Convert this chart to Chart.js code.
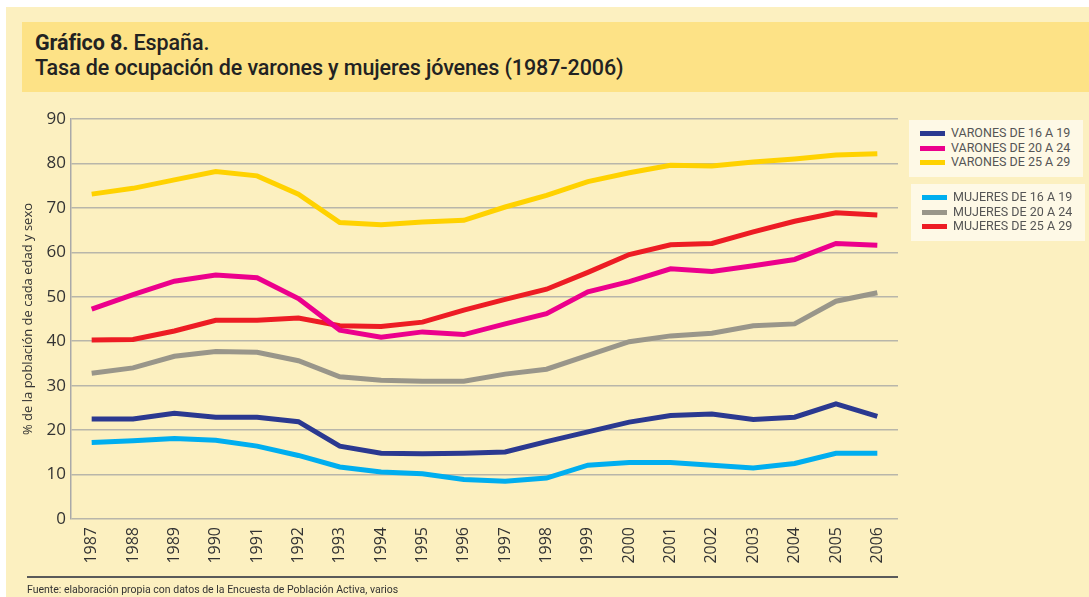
<!DOCTYPE html>
<html>
<head>
<meta charset="utf-8">
<script src="https://cdn.jsdelivr.net/npm/chart.js@4"></script>
<style>
  body { margin: 0; background: #fff; width: 1089px; height: 597px; overflow: hidden; position: relative; font-family: Roboto, "Open Sans", sans-serif; }
  #frame { position: absolute; left: 6px; top: 7px; right: 0; bottom: 0; background: #fcf0c0; }
  #band { position: absolute; left: 22px; top: 22px; right: 0; height: 70px; background: #fde286; }
  #title { position: absolute; left: 35px; top: 30px; font-size: 21.5px; line-height: 25px; color: #222; font-weight: 500; letter-spacing: -0.1px; }
  #title b { font-weight: 700; }
  #wrap { position: absolute; left: 0; top: 100px; width: 910px; height: 490px; }
  #rule { position: absolute; left: 27px; top: 576px; width: 871px; height: 2px; background: #5a5a5a; }
  #source { position: absolute; left: 27px; top: 583px; font-size: 10.5px; color: #333; }
  .lbox { position: absolute; background: #fef9e6; width: 174px; height: 57px; }
  .lrow { position: absolute; left: 11px; height: 15px; font-size: 12.5px; color: #555; white-space: nowrap; }
  .lrow span { position: absolute; left: 0; top: 5px; width: 25px; height: 5px; }
  .lrow i { position: absolute; left: 31px; top: -1px; font-style: normal; }
</style>
</head>
<body>
<div id="frame"></div>
<div id="band"></div>
<div id="title"><b>Gráfico 8.</b> España.<br>Tasa de ocupación de varones y mujeres jóvenes (1987-2006)</div>
<div id="wrap"><canvas id="chart"></canvas></div>
<div id="legend"></div>
<div id="rule"></div>
<div id="source">Fuente: elaboración propia con datos de la Encuesta de Población Activa, varios</div>
<script>
const years = ['1987','1988','1989','1990','1991','1992','1993','1994','1995','1996',
               '1997','1998','1999','2000','2001','2002','2003','2004','2005','2006'];

const varones16 = [22.5,22.5,23.8,22.9,22.9,21.9,16.4,14.8,14.7,14.8,15.1,17.4,19.6,21.8,23.3,23.6,22.4,22.9,25.9,23.1];
const varones20 = [47.2,50.5,53.5,54.9,54.3,49.6,42.5,40.9,42.1,41.5,43.9,46.2,51.1,53.4,56.3,55.7,57.0,58.4,62.0,61.6];
const varones25 = [73.1,74.4,76.3,78.2,77.2,73.1,66.7,66.2,66.8,67.2,70.2,72.8,75.9,77.9,79.6,79.4,80.3,81.0,81.9,82.2];
const mujeres16 = [17.2,17.6,18.1,17.7,16.4,14.3,11.7,10.6,10.2,8.9,8.5,9.2,12.1,12.7,12.7,12.1,11.5,12.5,14.8,14.8];
const mujeres20 = [32.8,34.0,36.6,37.7,37.5,35.6,32.0,31.2,31.0,31.0,32.6,33.7,36.8,39.9,41.2,41.8,43.5,43.9,49.0,50.9];
const mujeres25 = [40.3,40.4,42.3,44.7,44.7,45.2,43.5,43.3,44.3,47.0,49.4,51.7,55.5,59.5,61.7,62.0,64.6,67.0,68.9,68.4];

const yTicks = [0,10,20,30,40,50,60,70,80,90];
const yTitle = '% de la población de cada edad y sexo';

const series = [
  { label: 'VARONES DE 16 A 19', data: varones16, color: '#2b3990', group: 0 },
  { label: 'VARONES DE 20 A 24', data: varones20, color: '#ec008c', group: 0 },
  { label: 'VARONES DE 25 A 29', data: varones25, color: '#ffd200', group: 0 },
  { label: 'MUJERES DE 16 A 19', data: mujeres16, color: '#00aeef', group: 1 },
  { label: 'MUJERES DE 20 A 24', data: mujeres20, color: '#99968a', group: 1 },
  { label: 'MUJERES DE 25 A 29', data: mujeres25, color: '#ed1c24', group: 1 }
];

// legend boxes (two groups)
const legend = document.getElementById('legend');
const boxPos = [{ left: 909, top: 120 }, { left: 911, top: 184 }];
boxPos.forEach((p, g) => {
  const box = document.createElement('div');
  box.className = 'lbox';
  box.style.left = p.left + 'px';
  box.style.top = p.top + 'px';
  series.filter(s => s.group === g).forEach((s, i) => {
    const row = document.createElement('div');
    row.className = 'lrow';
    row.style.top = (6 + i * 14.7) + 'px';
    row.innerHTML = `<span style="background:${s.color}"></span><i>${s.label}</i>`;
    box.appendChild(row);
  });
  legend.appendChild(box);
});

const ctx = document.getElementById('chart').getContext('2d');
new Chart(ctx, {
  type: 'line',
  data: {
    labels: years,
    datasets: series.map(s => ({
      label: s.label, data: s.data, borderColor: s.color, backgroundColor: s.color,
      borderWidth: 5, pointRadius: 0, tension: 0, fill: false
    }))
  },
  options: {
    responsive: true,
    maintainAspectRatio: false,
    animation: false,
    layout: { padding: { top: 19, right: 12, left: 0, bottom: 0 } },
    plugins: { legend: { display: false }, tooltip: { enabled: false } },
    scales: {
      x: {
        offset: true,
        grid: { display: false, drawTicks: false },
        border: { display: false },
        ticks: { minRotation: 90, maxRotation: 90, padding: 8, color: '#333',
                 font: { family: 'Open Sans', size: 16 } },
        afterFit: s => { s.height = 71; }
      },
      y: {
        min: 0, max: 90,
        afterBuildTicks: s => { s.ticks = yTicks.map(v => ({ value: v })); },
        grid: { color: '#b8b6aa', lineWidth: 1.5, drawTicks: false },
        border: { color: '#a9a9a9', width: 1.5 },
        ticks: { padding: 5, color: '#333', font: { family: 'Open Sans', size: 17 } },
        title: { display: true, text: yTitle, color: '#333', padding: { top: 20, bottom: 0 },
                 font: { family: 'Open Sans', size: 13 } },
        afterFit: s => { s.width = 71; }
      }
    }
  }
});
</script>
</body>
</html>
